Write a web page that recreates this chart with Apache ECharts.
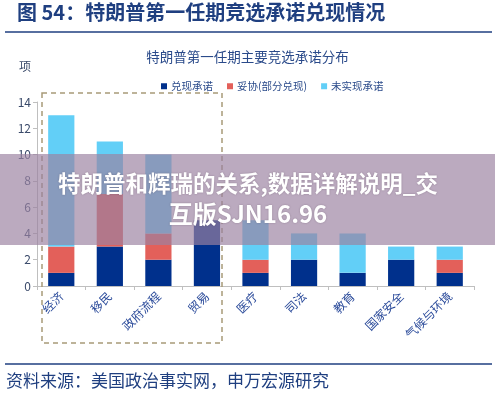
<!DOCTYPE html>
<html><head><meta charset="utf-8">
<script src="https://cdn.jsdelivr.net/npm/echarts@6/dist/echarts.min.js"></script>
<style>html,body{margin:0;padding:0;background:#fff}#c{width:495px;height:400px}</style>
</head><body><div id="c"></div>
<script>
const categories = ['经济','移民','政府流程','贸易','医疗','司法','教育','国家安全','气候与环境'];
const fulfilled = [1,3,2,5,1,2,1,2,1];
const compromise = [2,4,2,0,1,0,0,0,1];
const broken = [10,4,6,0,3,2,3,1,1];
const seriesNames = ['兑现承诺','妥协(部分兑现)','未实现承诺'];
const yTicks = [0,2,4,6,8,10,12,14];
const figTitle = '图 54：特朗普第一任期竞选承诺兑现情况';
const chartTitle = '特朗普第一任期主要竞选承诺分布';
const unitLabel = '项';
const sourceText = '资料来源：美国政治事实网，申万宏源研究';
const wmLine1 = '特朗普和辉瑞的关系,数据详解说明_交';
const wmLine2 = '互版SJN16.96';

const FONT = '"Noto Sans CJK SC", "Noto Sans", sans-serif';
const chart = echarts.init(document.getElementById('c'));
const mk = (name, data, color) => ({
  name, type: 'bar', stack: 's', data, barWidth: '54%',
  itemStyle: {color}, emphasis: {disabled: true}
});
chart.setOption({
  animation: false,
  textStyle: {fontFamily: FONT},
  title: {text: chartTitle, left: 'center', top: 45,
    textStyle: {fontSize: 13.5, fontWeight: 'normal', color: '#2a4a8a', fontFamily: FONT}},
  legend: {top: 76, left: 156, itemWidth: 6, itemHeight: 6, itemGap: 14,
    icon: 'rect', data: seriesNames,
    textStyle: {fontSize: 10.5, color: '#2a4a8a', fontFamily: FONT, padding: [0, 0, 0, -1]}},
  grid: {left: 37, right: 21, top: 102, bottom: 114},
  xAxis: {type: 'category', data: categories,
    axisLine: {lineStyle: {color: '#bfbfbf'}},
    axisTick: {show: true, length: 4, lineStyle: {color: '#bfbfbf'}},
    axisLabel: {rotate: 45, interval: 0, fontSize: 12, color: '#2a4a9a', margin: 8, fontFamily: FONT}},
  yAxis: {type: 'value', min: yTicks[0], max: yTicks[yTicks.length-1], interval: 2,
    splitLine: {show: false},
    axisLine: {show: true, lineStyle: {color: '#bfbfbf'}},
    axisTick: {show: true, length: 4, lineStyle: {color: '#bfbfbf'}},
    axisLabel: {fontSize: 12, color: '#3a4a6a', margin: 6, fontFamily: FONT}},
  series: [
    mk(seriesNames[0], fulfilled, '#00308c'),
    mk(seriesNames[1], compromise, '#e3605a'),
    mk(seriesNames[2], broken, '#62cff7')
  ],
  graphic: [
    {type: 'text', left: 17, top: 2, z: 10,
      style: {text: figTitle, font: 'bold 20px ' + FONT, fill: '#1f3f80'}},
    {type: 'line', z: 10, shape: {x1: 5, y1: 32, x2: 492, y2: 32},
      style: {stroke: '#1f3f80', lineWidth: 1.5}},
    {type: 'text', left: 19, top: 60, z: 10,
      style: {text: unitLabel, font: '12px ' + FONT, fill: '#3a4a6a'}},
    {type: 'rect', z: 10, shape: {x: 42, y: 93, width: 180, height: 250},
      style: {fill: 'none', stroke: '#a89a78', lineWidth: 1.5, lineDash: [5, 4]}},
    {type: 'line', z: 10, shape: {x1: 5, y1: 364, x2: 492, y2: 364},
      style: {stroke: '#1f3f80', lineWidth: 1.5}},
    {type: 'text', left: 6, top: 372, z: 10,
      style: {text: sourceText, font: '17px ' + FONT, fill: '#1f3f80'}},
    {type: 'rect', z: 50, shape: {x: 0, y: 154, width: 495, height: 91},
      style: {fill: 'rgba(155,130,160,0.68)'}},
    {type: 'text', z: 51, x: 248, y: 183,
      style: {text: wmLine1, font: 'bold 22.5px ' + FONT, fill: '#ffffff', align: 'center', verticalAlign: 'middle',
        textShadowColor: 'rgba(60,40,60,0.35)', textShadowBlur: 2}},
    {type: 'text', z: 51, x: 248, y: 214,
      style: {text: wmLine2, font: 'bold 24px ' + FONT, fill: '#ffffff', align: 'center', verticalAlign: 'middle',
        textShadowColor: 'rgba(60,40,60,0.35)', textShadowBlur: 2}}
  ]
});
</script></body></html>
